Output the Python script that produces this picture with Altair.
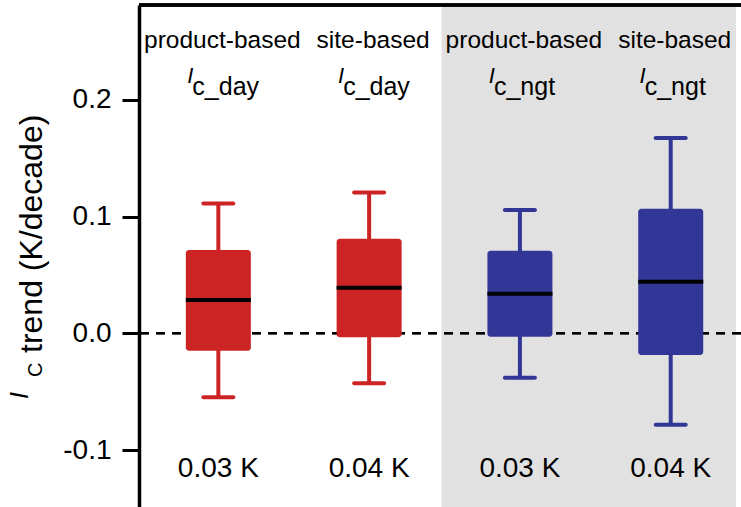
import altair as alt
import pandas as pd

# ---- data ----
positions = [1, 2, 3, 4]
groups = ["day", "day", "ngt", "ngt"]
top_labels = ["product-based", "site-based", "product-based", "site-based"]
sub_labels = ["c_day", "c_day", "c_ngt", "c_ngt"]
mean_labels = ["0.03 K", "0.04 K", "0.03 K", "0.04 K"]
whisker_low = [-0.0548, -0.0428, -0.0380, -0.0784]
q1 = [-0.0149, -0.0034, -0.0029, -0.0186]
median = [0.0285, 0.0390, 0.0339, 0.0441]
q3 = [0.0713, 0.0809, 0.0707, 0.1066]
whisker_high = [0.1112, 0.1206, 0.1055, 0.1673]
y_ticks = [-0.1, 0.0, 0.1, 0.2]
night_start = [2.48]

X_DOMAIN = [0.507, 4.433]
Y_DOMAIN = [-0.1488, 0.2812]
W, H = 602, 502
FONT = "Liberation Sans"

df = pd.DataFrame({
    "pos": positions, "group": groups, "top": top_labels, "sub": sub_labels,
    "mean": mean_labels, "lo": whisker_low, "q1": q1, "med": median,
    "q3": q3, "hi": whisker_high,
})
shade = pd.DataFrame({"x": night_start, "x2": [X_DOMAIN[1]]})

xs = alt.Scale(domain=X_DOMAIN, nice=False, zero=False)
ys = alt.Scale(domain=Y_DOMAIN, nice=False, zero=False)
col = alt.Color("group:N", scale=alt.Scale(domain=["day", "ngt"], range=["#CC2324", "#323696"]), legend=None)

yaxis = alt.Axis(values=y_ticks, format=".1f", labelExpr="replace(datum.label, '\u2212', '-')",
                 labelFontSize=28, labelFont=FONT, labelColor="black",
                 labelPadding=11, tickSize=17, tickWidth=3, tickColor="black", domainColor="black",
                 domainWidth=3.5, grid=False, title=None)

base = alt.Chart(df)

bg = alt.Chart(shade).mark_rect(color="#E1E1E1").encode(
    x=alt.X("x:Q", scale=xs, axis=None), x2="x2:Q",
    y=alt.datum(Y_DOMAIN[1], scale=ys, type="quantitative"), y2=alt.datum(Y_DOMAIN[0]),
)

zero = base.mark_rule(color="black", strokeWidth=2, strokeDash=[9, 7]).encode(
    y=alt.datum(0.0, type="quantitative"),
)

whisk = base.mark_rule(strokeWidth=4).encode(
    x=alt.X("pos:Q", scale=xs, axis=None),
    y=alt.Y("lo:Q", scale=ys, axis=yaxis), y2="hi:Q", color=col,
)
caps_lo = base.mark_tick(orient="horizontal", size=34, thickness=4, cornerRadius=2, opacity=1).encode(
    x=alt.X("pos:Q", scale=xs), y=alt.Y("lo:Q", scale=ys), color=col)
caps_hi = base.mark_tick(orient="horizontal", size=34, thickness=4, cornerRadius=2, opacity=1).encode(
    x=alt.X("pos:Q", scale=xs), y=alt.Y("hi:Q", scale=ys), color=col)
box = base.mark_bar(size=65, cornerRadius=3).encode(
    x=alt.X("pos:Q", scale=xs), y=alt.Y("q1:Q", scale=ys), y2="q3:Q", color=col)
med = base.mark_tick(orient="horizontal", size=65, thickness=4, color="black", opacity=1).encode(
    x=alt.X("pos:Q", scale=xs), y=alt.Y("med:Q", scale=ys))

border = base.mark_rule(color="black", strokeWidth=3).encode(
    y=alt.datum(Y_DOMAIN[1], type="quantitative"))

t_top = base.mark_text(font=FONT, fontSize=24.5, color="black", align="center", baseline="alphabetic", dx=4).encode(
    x=alt.X("pos:Q", scale=xs), y=alt.value(43), text="top:N")
t_I = base.mark_text(font=FONT, fontSize=22, fontStyle="italic", color="black", align="right",
                     baseline="alphabetic", dx=-25).encode(
    x=alt.X("pos:Q", scale=xs), y=alt.value(78), text=alt.value("I"))
t_sub = base.mark_text(font=FONT, fontSize=25, color="black", align="left", baseline="alphabetic", dx=-26).encode(
    x=alt.X("pos:Q", scale=xs), y=alt.value(90), text="sub:N")
t_mean = base.mark_text(font=FONT, fontSize=28, color="black", align="center", baseline="alphabetic", dx=0).encode(
    x=alt.X("pos:Q", scale=xs), y=alt.value(472), text="mean:N")

# y-axis title: italic I with subscript C, then "trend (K/decade)"
title_df = pd.DataFrame({"t": ["trend (K/decade)"]})
tt = alt.Chart(title_df).mark_text(font=FONT, fontSize=32, color="black", angle=270, align="left",
                                   baseline="alphabetic").encode(
    x=alt.value(-97), y=alt.value(348), text="t:N")
tC = alt.Chart(title_df).mark_text(font=FONT, fontSize=20, color="black", angle=270, align="left",
                                   baseline="alphabetic").encode(
    x=alt.value(-97), y=alt.value(372), text=alt.value("C"))
tI = alt.Chart(title_df).mark_text(font=FONT, fontSize=25, fontStyle="italic", color="black", angle=270,
                                   align="left", baseline="alphabetic").encode(
    x=alt.value(-111), y=alt.value(394), text=alt.value("I"))

chart = alt.layer(
    bg, zero, whisk, caps_lo, caps_hi, box, med, border, t_top, t_I, t_sub, t_mean, tt, tC, tI
).properties(
    width=W, height=H,
    autosize=alt.AutoSizeParams(type="none"),
    padding={"left": 139, "top": 5, "right": 0, "bottom": 0},
).configure_view(strokeWidth=0)

chart.save("out.html", embed_options={"renderer": "svg", "actions": False})
